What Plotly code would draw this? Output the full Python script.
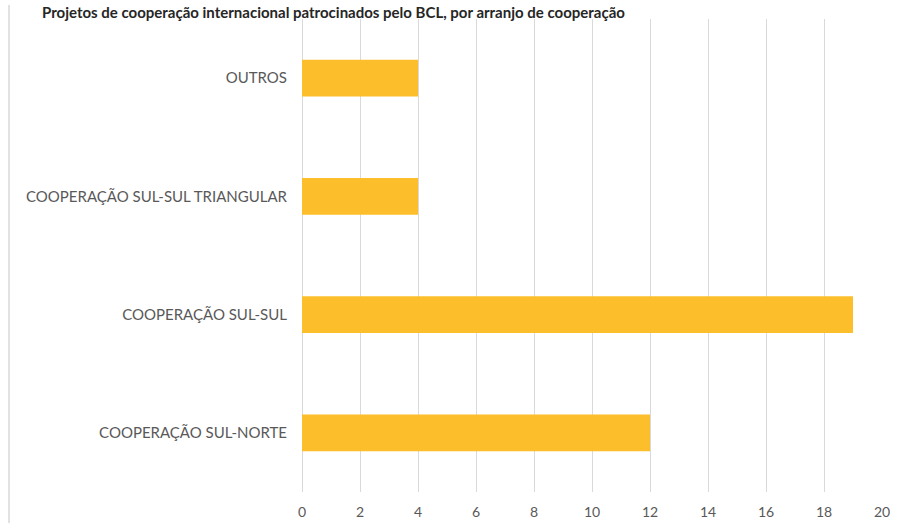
import plotly.graph_objects as go

# Projects by cooperation arrangement
categories = ["COOPERAÇÃO SUL-NORTE", "COOPERAÇÃO SUL-SUL",
              "COOPERAÇÃO SUL-SUL TRIANGULAR", "OUTROS"]
projects = [12, 19, 4, 4]
x_ticks = list(range(0, 21, 2))

title_text = "Projetos de cooperação internacional patrocinados pelo BCL, por arranjo de cooperação"

W, H = 908, 523
L, R, T, B = 302, 26, 19, 31
plot_w = W - L - R
plot_h = H - T - B

bar_color = "#FDBE2B"
text_color = "#595959"
grid_color = "#D9D9D9"

fig = go.Figure(go.Bar(
    x=projects,
    y=categories,
    orientation="h",
    marker=dict(color=bar_color, line=dict(width=0)),
    hoverinfo="x+y",
))

fig.update_layout(
    width=W, height=H,
    margin=dict(l=L, r=R, t=T, b=B, pad=0, autoexpand=False),
    paper_bgcolor="white",
    plot_bgcolor="white",
    bargap=0.69,
    showlegend=False,
    font=dict(family="Lato, 'Open Sans', sans-serif", size=13, color=text_color),
)

fig.update_xaxes(
    range=[0, 20],
    tickvals=x_ticks,
    showgrid=True, gridcolor=grid_color, gridwidth=1,
    zeroline=True, zerolinecolor=grid_color, zerolinewidth=1,
    showline=False,
    ticks="", ticklabelstandoff=10,
    tickfont=dict(size=14, color=text_color),
    automargin=False,
    fixedrange=True,
)
fig.update_yaxes(
    showgrid=False, zeroline=False, showline=False,
    ticks="", ticklabelstandoff=14,
    tickfont=dict(size=15, color=text_color),
    automargin=False,
    fixedrange=True,
)

# Outer frame line on the left edge of the chart area
fig.add_shape(
    type="line", xref="x domain", yref="paper",
    x0=(9 - L) / plot_w, x1=(9 - L) / plot_w,
    y0=(H - B - 5) / plot_h, y1=(H - B - H) / plot_h,
    line=dict(color=grid_color, width=1.5),
)

# Chart title
fig.add_annotation(
    text="<b>" + title_text + "</b>",
    xref="x domain", yref="paper",
    x=(40 - L) / plot_w, y=(H - B - 1) / plot_h,
    xanchor="left", yanchor="top",
    showarrow=False,
    font=dict(size=15, color="#262626", family="Lato, 'Open Sans', sans-serif"),
)

fig.write_html("out.html")
